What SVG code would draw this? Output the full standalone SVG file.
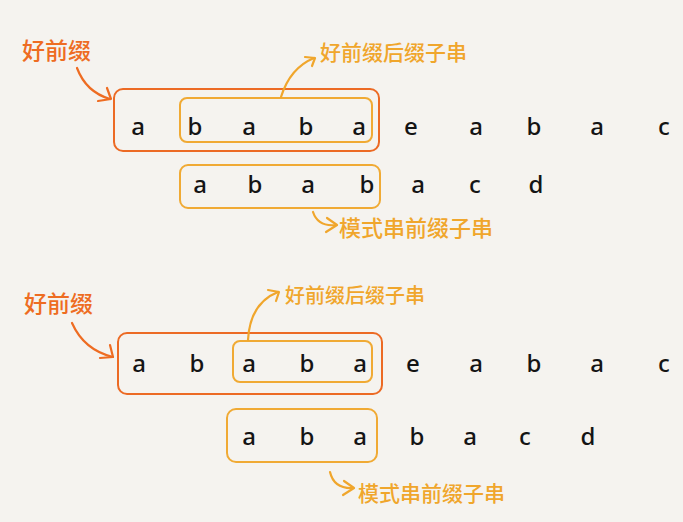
<svg xmlns="http://www.w3.org/2000/svg" width="683" height="522" viewBox="0 0 683 522">
<defs>
<style>
.bg{fill:#f5f3ef}
.ch{font-family:"Noto Sans","DejaVu Sans",sans-serif;font-size:24px;font-weight:500;fill:#141414;text-anchor:middle}
.lo{font-family:"Noto Sans CJK SC","Noto Sans",sans-serif;fill:#ee6c22;font-size:23px;font-weight:500}
.ly{font-family:"Noto Sans CJK SC","Noto Sans",sans-serif;fill:#f0a62c;font-size:21px;font-weight:500}
.bo{fill:none;stroke:#ec6a24;stroke-width:2}
.by{fill:none;stroke:#f0aa34;stroke-width:2}
.ao{fill:none;stroke:#ee6c22;stroke-width:2.2;stroke-linecap:round;stroke-linejoin:round}
.ay{fill:none;stroke:#f0a62c;stroke-width:2.2;stroke-linecap:round;stroke-linejoin:round}
</style>
</defs>
<rect class="bg" x="0" y="0" width="683" height="522"/>

<g id="top-good-prefix-box"><rect class="bo" x="114" y="89" width="265" height="62" rx="9"/></g>
<g id="top-suffix-box"><rect class="by" x="180" y="98" width="192" height="44" rx="7"/></g>
<g id="top-pattern-prefix-box"><rect class="by" x="180" y="165" width="200" height="43" rx="8"/></g>

<g id="top-main-string">
<text class="ch" x="138" y="135">a</text>
<text class="ch" x="195" y="135">b</text>
<text class="ch" x="249" y="135">a</text>
<text class="ch" x="306" y="135">b</text>
<text class="ch" x="359" y="135">a</text>
<text class="ch" x="411" y="135">e</text>
<text class="ch" x="476" y="135">a</text>
<text class="ch" x="534" y="135">b</text>
<text class="ch" x="597" y="135">a</text>
<text class="ch" x="664" y="135">c</text>
</g>
<g id="top-pattern-string">
<text class="ch" x="200" y="193">a</text>
<text class="ch" x="255" y="193">b</text>
<text class="ch" x="308" y="193">a</text>
<text class="ch" x="367" y="193">b</text>
<text class="ch" x="418" y="193">a</text>
<text class="ch" x="475" y="193">c</text>
<text class="ch" x="536" y="193">d</text>
</g>

<g id="top-label-good-prefix"><text class="lo" x="22" y="59">好前缀</text></g>
<g id="top-label-suffix"><text class="ly" x="320" y="60">好前缀后缀子串</text></g>
<g id="top-label-pattern"><text class="ly" x="339" y="236" style="font-size:22px">模式串前缀子串</text></g>

<g id="bottom-good-prefix-box"><rect class="bo" x="118" y="333" width="264" height="61" rx="9"/></g>
<g id="bottom-suffix-box"><rect class="by" x="233" y="341" width="139" height="41" rx="7"/></g>
<g id="bottom-pattern-prefix-box"><rect class="by" x="227" y="409" width="150" height="53" rx="9"/></g>

<g id="bottom-main-string">
<text class="ch" x="139" y="372">a</text>
<text class="ch" x="197" y="372">b</text>
<text class="ch" x="249" y="372">a</text>
<text class="ch" x="307" y="372">b</text>
<text class="ch" x="360" y="372">a</text>
<text class="ch" x="413" y="372">e</text>
<text class="ch" x="476" y="372">a</text>
<text class="ch" x="534" y="372">b</text>
<text class="ch" x="597" y="372">a</text>
<text class="ch" x="664" y="372">c</text>
</g>
<g id="bottom-pattern-string">
<text class="ch" x="249" y="445">a</text>
<text class="ch" x="307" y="445">b</text>
<text class="ch" x="360" y="445">a</text>
<text class="ch" x="417" y="445">b</text>
<text class="ch" x="470" y="445">a</text>
<text class="ch" x="525" y="445">c</text>
<text class="ch" x="588" y="445">d</text>
</g>

<g id="bottom-label-good-prefix"><text class="lo" x="24" y="312">好前缀</text></g>
<g id="bottom-label-suffix"><text class="ly" x="285" y="303" style="font-size:20px">好前缀后缀子串</text></g>
<g id="bottom-label-pattern"><text class="ly" x="358" y="501">模式串前缀子串</text></g>

<g id="connectors">
<path class="ao" d="M77,68 Q86,92 110,99"/>
<path class="ao" d="M98,101 L111,99 L107,88"/>
<path class="ay" d="M281,97 Q290,68 314,58"/>
<path class="ay" d="M305,57 L315,58 L312,66"/>
<path class="ay" d="M313,212 Q318,227 336,225"/>
<path class="ay" d="M327,218 L337,225 L326,232"/>

<path class="ao" d="M72,323 Q84,350 113,357"/>
<path class="ao" d="M100,358 L113,357 L110,345"/>
<path class="ay" d="M248,340 Q250,303 278,292"/>
<path class="ay" d="M268,290 L279,292 L276,301"/>
<path class="ay" d="M330,472 Q334,489 353,488"/>
<path class="ay" d="M344,481 L354,488 L343,495"/>
</g>
</svg>
